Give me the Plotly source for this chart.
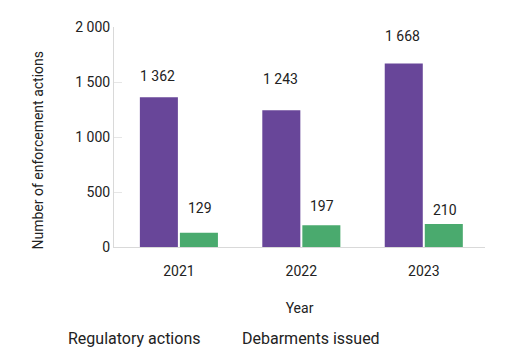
import plotly.graph_objects as go

years = ["2021", "2022", "2023"]
regulatory_actions = [1362, 1243, 1668]
debarments_issued = [129, 197, 210]
series_names = ["Regulatory actions", "Debarments issued"]
y_title = "Number of enforcement actions"
x_title = "Year"
y_ticks = [0, 500, 1000, 1500, 2000]

# visual lift of each value label above its bar (px)
lift_reg = [21, 31, 28]
lift_deb = [25, 19, 14]

PURPLE = "#684699"
GREEN = "#4aaa6e"
TXT = "#222222"
FONT = "Roboto"

# page body has an 8px margin; figure placed at (8, 8)
W, H = 505, 353
L, R, T, B = 106, 28, 11, 114
PW, PH = W - L - R, H - T - B
OFF = 8


def fmt(v):
    return f"{v:,}".replace(",", " ")


def px_to_paper(xp, yp):
    return (xp - OFF - L) / PW, 1 - (yp - OFF - T) / PH


fig = go.Figure()
fig.add_trace(go.Bar(x=years, y=regulatory_actions, name=series_names[0],
                     marker=dict(color=PURPLE, line=dict(width=0)), showlegend=False))
fig.add_trace(go.Bar(x=years, y=debarments_issued, name=series_names[1],
                     marker=dict(color=GREEN, line=dict(width=0)), showlegend=False))

ann = []
for i, (v, l) in enumerate(zip(regulatory_actions, lift_reg)):
    ann.append(dict(x=i, y=v, xref="x", yref="y", text=fmt(v), showarrow=False,
                    xshift=-21, yshift=l, yanchor="middle",
                    font=dict(family=FONT, size=14, color=TXT)))
for i, (v, l) in enumerate(zip(debarments_issued, lift_deb)):
    ann.append(dict(x=i, y=v, xref="x", yref="y", text=fmt(v), showarrow=False,
                    xshift=21, yshift=l, yanchor="middle",
                    font=dict(family=FONT, size=14, color=TXT)))

# legend as plain text (no swatches in reference)
for name, xp in zip(series_names, [66, 240]):
    px, py = px_to_paper(xp, 342)
    ann.append(dict(x=px, y=py, xref="paper", yref="paper",
                    text=name, showarrow=False, xanchor="left", yanchor="middle",
                    font=dict(family=FONT, size=16, color=TXT)))

# y-axis title
px, py = px_to_paper(38, 147)
ann.append(dict(x=px, y=py, xref="paper", yref="paper", text=y_title,
                showarrow=False, textangle=-90, xanchor="center", yanchor="middle",
                font=dict(family=FONT, size=14, color=TXT)))

fig.update_layout(
    width=W, height=H,
    margin=dict(l=L, r=R, t=T, b=B),
    paper_bgcolor="white", plot_bgcolor="white",
    barmode="group", bargap=0.346, bargroupgap=0.05,
    separators=". ",
    font=dict(family=FONT, size=14, color=TXT),
    annotations=ann,
    xaxis=dict(
        type="category", range=[-0.53, 2.5],
        showline=True, linecolor="#d9d9d9", linewidth=1,
        ticks="", showgrid=False, ticklabelstandoff=11,
        title=dict(text=x_title, standoff=25, font=dict(size=14)),
        tickfont=dict(size=14),
    ),
    yaxis=dict(
        range=[0, 2000], tickvals=y_ticks, tickformat=",",
        showline=True, linecolor="#d9d9d9", linewidth=1,
        ticks="inside", ticklen=8, tickcolor="#e6e6e6",
        showgrid=False, zeroline=False,
        tickfont=dict(size=14),
    ),
)

fig.write_html("out.html")
